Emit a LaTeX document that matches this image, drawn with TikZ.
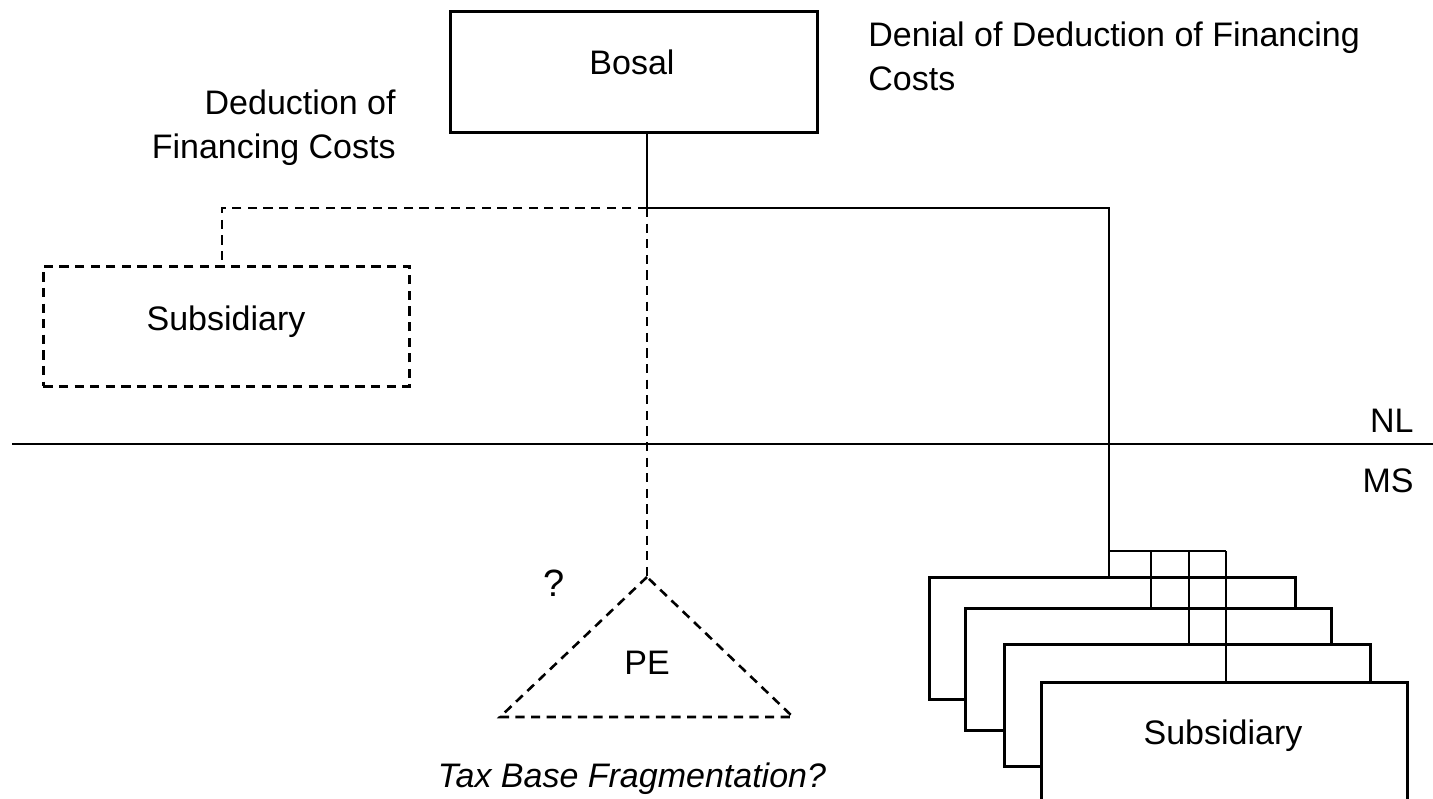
\documentclass[tikz,border=0pt]{standalone}
\usepackage{fontspec}
\setmainfont{Liberation Sans}
\begin{document}
\begin{tikzpicture}[x=0.5pt,y=-0.5pt,
  every node/.style={inner sep=0pt, font=\fontsize{17}{22}\selectfont},
  ln/.style={line width=1.3pt, line cap=butt},
  dsh/.style={ln, dash pattern=on 4.6pt off 3.2pt},
  solidbox/.style={ln, draw, fill=white, rectangle, minimum width=183pt, minimum height=61pt, anchor=north west},
  dashbox/.style={dsh, draw, rectangle, minimum width=183pt, minimum height=60pt, anchor=north west},
  lbl/.style={anchor=base}]
\clip (0,0) rectangle (1433,798);
\fill[white] (0,0) rectangle (1433,798);

% Bosal
\node[solidbox, minimum width=183.5pt, minimum height=60.5pt] (bosal) at (449,10) {};
\node[lbl] (bosaltxt) at (632,74) {Bosal};

% texts at top
\node[anchor=north west, align=left] (denial) at (868,21) {Denial of Deduction of Financing\\Costs};
\node[anchor=north east, align=right] (deduct) at (396,89) {Deduction of\\Financing Costs};

% junction
\coordinate (j) at (647,208);

% dashed subsidiary (NL)
\node[dashbox] (sub0) at (42,265) {};
\node[lbl] (sub0txt) at (226,330) {Subsidiary};
\coordinate (sub0top) at (222,265);

% NL / MS border
\coordinate (bl) at (12,444);
\coordinate (br) at (1433,444);
\draw[ln] (bl) -- (br);
\node[anchor=base east] (nl) at (1414,432) {NL};
\node[anchor=base east] (ms) at (1414,492) {MS};

% PE triangle
\coordinate (pe) at (647,577);
\coordinate (peL) at (500,717);
\coordinate (peR) at (793,717);
\draw[dsh] (pe) -- (peL) -- (peR) -- cycle;
\node[lbl] (petxt) at (647,674) {PE};
\node[lbl, font=\fontsize{19}{22}\selectfont] (q) at (554,596) {?};
\node[lbl, font=\fontsize{17}{22}\selectfont\itshape] (tbf) at (632,787) {Tax Base Fragmentation?};

% stacked subsidiaries (MS)
\node[solidbox] (s1) at (928,576) {};
\node[solidbox] (s2) at (964,607) {};
\node[solidbox] (s3) at (1003,643) {};
\node[solidbox] (s4) at (1040,681) {};
\node[lbl] (s4txt) at (1223,744) {Subsidiary};

\coordinate (b0) at (1109,551);
\coordinate (b1) at (1151,551);
\coordinate (b2) at (1189,551);
\coordinate (b3) at (1226,551);
\coordinate (t1) at (1109,576);

% connectors
\draw[ln] (bosal.south -| j) -- (j);
\draw[dsh] (j) -- (pe);
\draw[dsh] (j) -| (sub0top);
\draw[ln] (j) -| (t1);
\draw[ln] (b0) -- (b3);
\draw[ln] (b1) -- (b1 |- s2.north);
\draw[ln] (b2) -- (b2 |- s3.north);
\draw[ln] (b3) -- (b3 |- s4.north);
\end{tikzpicture}
\end{document}
